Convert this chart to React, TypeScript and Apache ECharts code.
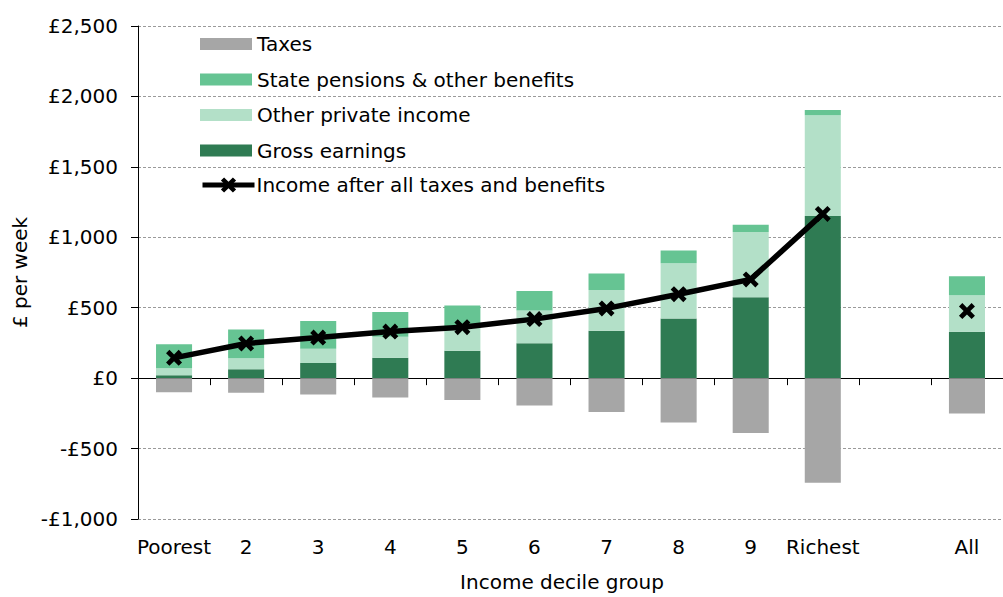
import React, { useEffect, useRef } from "react";
import * as echarts from "echarts";

const categories = ["Poorest", "2", "3", "4", "5", "6", "7", "8", "9", "Richest", "", "All"];
const grossEarnings = [21, 64, 107, 144, 194, 248, 336, 424, 575, 1152, null, 329];
const otherPrivateIncome = [50, 78, 101, 149, 161, 233, 289, 392, 462, 715, null, 260];
const statePensionsBenefits = [170, 204, 197, 176, 161, 137, 118, 91, 52, 36, null, 135];
const taxes = [-100, -104, -116, -137, -155, -194, -241, -315, -390, -743, null, -251];
const incomeAfterAll = [144, 246, 288, 331, 362, 419, 495, 596, 701, 1166, null, 476];
const yTicks = [-1000, -500, 0, 500, 1000, 1500, 2000, 2500];

const FONT = "DejaVu Sans";
const FS = 20;
const X_SYMBOL =
  "path://M0,2.1 L2.1,0 L5,2.9 L7.9,0 L10,2.1 L7.1,5 L10,7.9 L7.9,10 L5,7.1 L2.1,10 L0,7.9 L2.9,5 Z";

function fmt(v: number): string {
  const s = Math.abs(v).toLocaleString("en-GB");
  return v < 0 ? "-£" + s : "£" + s;
}

export default function App() {
  const ref = useRef<HTMLDivElement>(null);
  useEffect(() => {
    if (!ref.current) return;
    const chart = echarts.init(ref.current, undefined, { renderer: "svg" });
    chart.setOption({
      animation: false,
      backgroundColor: "#ffffff",
      textStyle: { fontFamily: FONT, color: "#000" },
      grid: { left: 138, top: 26, width: 876, height: 493, containLabel: false },
      legend: [
        {
          orient: "vertical",
          left: 200,
          top: 34,
          padding: 0,
          icon: "rect",
          itemWidth: 52,
          itemHeight: 12,
          itemGap: 15.5,
          textStyle: { fontFamily: FONT, fontSize: FS, color: "#000" },
          data: ["Taxes", "State pensions & other benefits", "Other private income", "Gross earnings"],
        },
        {
          orient: "vertical",
          left: 200,
          top: 175,
          padding: 0,
          itemWidth: 52,
          itemHeight: 19,
          textStyle: { fontFamily: FONT, fontSize: FS, color: "#000", padding: [0, 0, 0, -3] },
          lineStyle: { width: 5, color: "#000" },
          data: ["Income after all taxes and benefits"],
        },
      ],
      xAxis: [
        {
          type: "category",
          data: categories,
          position: "bottom",
          axisLine: { show: true, onZero: true, lineStyle: { color: "#000", width: 1 } },
          axisTick: { show: true, length: 7, interval: 0, lineStyle: { color: "#000" } },
          axisLabel: { show: false },
          splitLine: { show: false },
        },
        {
          type: "category",
          data: categories,
          position: "bottom",
          axisLine: { show: false, onZero: false },
          axisTick: { show: false },
          axisLabel: { show: true, interval: 0, fontFamily: FONT, fontSize: FS, color: "#000", margin: 18 },
          splitLine: { show: false },
          name: "Income decile group",
          nameLocation: "middle",
          nameGap: 53,
          nameTextStyle: { fontFamily: FONT, fontSize: FS, color: "#000", padding: [0, 17, 0, 0] },
        },
      ],
      yAxis: {
        type: "value",
        min: yTicks[0],
        max: yTicks[yTicks.length - 1],
        interval: 500,
        axisLine: { show: true, onZero: false, lineStyle: { color: "#000", width: 1 } },
        axisTick: { show: true, length: 7, lineStyle: { color: "#000" } },
        axisLabel: { fontFamily: FONT, fontSize: FS, color: "#000", margin: 20, formatter: (v: number) => fmt(v) },
        splitLine: { show: true, lineStyle: { color: "#9a9a9a", type: [3, 2], width: 1 } },
        name: "£ per week",
        nameLocation: "middle",
        nameGap: 106,
        nameTextStyle: { fontFamily: FONT, fontSize: FS, color: "#000" },
      },
      series: [
        {
          name: "Gross earnings",
          type: "bar",
          stack: "total",
          barWidth: "50%",
          data: grossEarnings,
          itemStyle: { color: "#2f7b53" },
        },
        {
          name: "Other private income",
          type: "bar",
          stack: "total",
          barWidth: "50%",
          data: otherPrivateIncome,
          itemStyle: { color: "#b3e0c8" },
        },
        {
          name: "State pensions & other benefits",
          type: "bar",
          stack: "total",
          barWidth: "50%",
          data: statePensionsBenefits,
          itemStyle: { color: "#66c493" },
        },
        {
          name: "Taxes",
          type: "bar",
          stack: "total",
          barWidth: "50%",
          data: taxes,
          itemStyle: { color: "#a6a6a6" },
        },
        {
          name: "Income after all taxes and benefits",
          type: "line",
          data: incomeAfterAll,
          connectNulls: false,
          symbol: X_SYMBOL,
          symbolSize: 16,
          showSymbol: true,
          z: 5,
          lineStyle: { color: "#000", width: 5.5 },
          itemStyle: { color: "#000" },
        },
      ],
    });
    return () => chart.dispose();
  }, []);
  return (
    <div
      ref={ref}
      style={{ position: "fixed", left: 0, top: 0, width: 1003, height: 597, background: "#fff" }}
    />
  );
}
